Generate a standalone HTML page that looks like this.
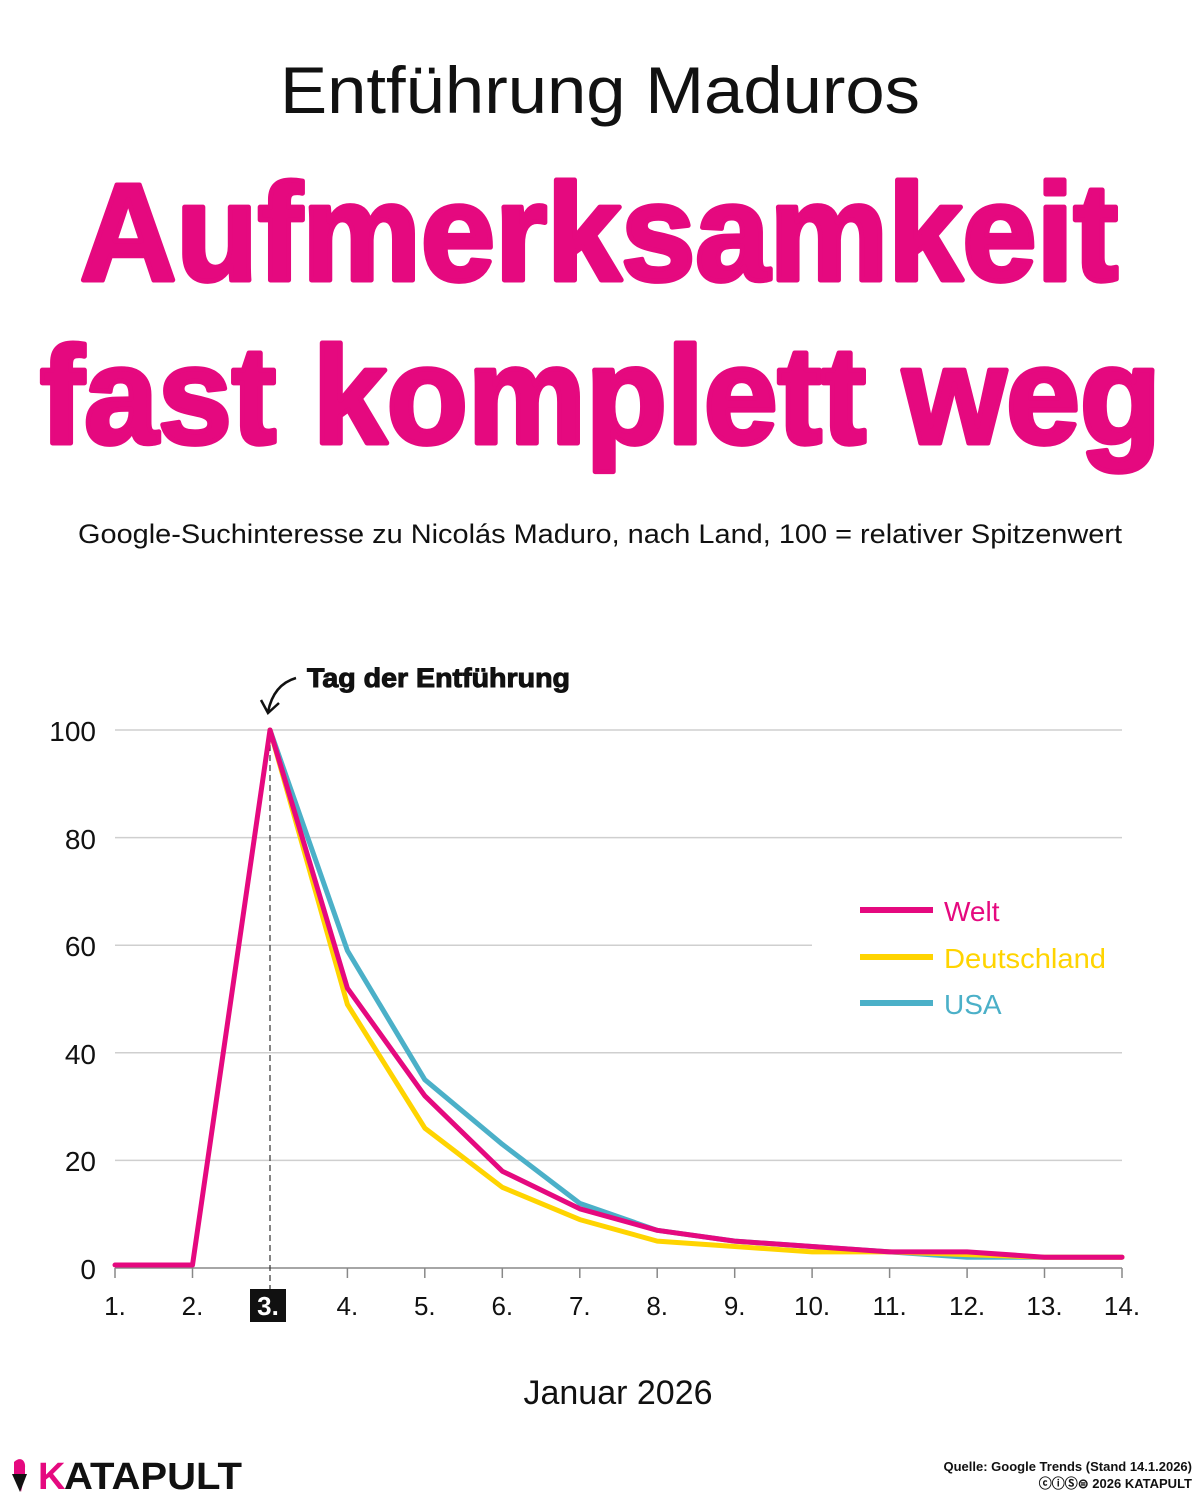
<!DOCTYPE html>
<html><head><meta charset="utf-8"><style>html,body{margin:0;padding:0;background:#fff}svg{display:block}</style></head>
<body>
<svg width="1200" height="1500" viewBox="0 0 1200 1500" xmlns="http://www.w3.org/2000/svg" font-family="Liberation Sans, sans-serif">
<rect width="1200" height="1500" fill="#fff"/>
<text x="600" y="113" text-anchor="middle" font-size="66" fill="#111" textLength="640" lengthAdjust="spacingAndGlyphs">Entführung Maduros</text>
<text x="80" y="280" font-size="138" font-weight="bold" fill="#e5097f" stroke="#e5097f" stroke-width="5" stroke-linejoin="round" textLength="1038" lengthAdjust="spacingAndGlyphs">Aufmerksamkeit</text>
<text x="40" y="443" font-size="138" font-weight="bold" fill="#e5097f" stroke="#e5097f" stroke-width="5" stroke-linejoin="round" textLength="1121" lengthAdjust="spacingAndGlyphs">fast komplett weg</text>
<text x="78" y="543" font-size="27" fill="#111" textLength="1044" lengthAdjust="spacingAndGlyphs">Google-Suchinteresse zu Nicolás Maduro, nach Land, 100 = relativer Spitzenwert</text>

<g stroke="#cfcfcf" stroke-width="1.5">
<line x1="115" y1="730" x2="1122" y2="730"/>
<line x1="115" y1="837.6" x2="1122" y2="837.6"/>
<line x1="115" y1="945.2" x2="812" y2="945.2"/>
<line x1="115" y1="1052.8" x2="1122" y2="1052.8"/>
<line x1="115" y1="1160.4" x2="1122" y2="1160.4"/>
</g>
<line x1="115" y1="1268" x2="1122" y2="1268" stroke="#888" stroke-width="1.5"/>
<g stroke="#888" stroke-width="1.5">
<line x1="115" y1="1268" x2="115" y2="1278"/><line x1="192.5" y1="1268" x2="192.5" y2="1278"/><line x1="347.4" y1="1268" x2="347.4" y2="1278"/><line x1="424.8" y1="1268" x2="424.8" y2="1278"/><line x1="502.3" y1="1268" x2="502.3" y2="1278"/><line x1="579.8" y1="1268" x2="579.8" y2="1278"/><line x1="657.2" y1="1268" x2="657.2" y2="1278"/><line x1="734.7" y1="1268" x2="734.7" y2="1278"/><line x1="812.1" y1="1268" x2="812.1" y2="1278"/><line x1="889.6" y1="1268" x2="889.6" y2="1278"/><line x1="967.1" y1="1268" x2="967.1" y2="1278"/><line x1="1044.5" y1="1268" x2="1044.5" y2="1278"/><line x1="1122" y1="1268" x2="1122" y2="1278"/>
</g>
<line x1="270" y1="735" x2="270" y2="1290" stroke="#333" stroke-width="1.2" stroke-dasharray="6,4"/>

<g font-size="28" fill="#111" text-anchor="end">
<text x="96" y="741">100</text><text x="96" y="849">80</text><text x="96" y="956">60</text><text x="96" y="1064">40</text><text x="96" y="1171">20</text><text x="96" y="1279">0</text>
</g>
<g font-size="26" fill="#111" text-anchor="middle">
<text x="115" y="1315">1.</text><text x="192.5" y="1315">2.</text>
<text x="347.4" y="1315">4.</text><text x="424.8" y="1315">5.</text><text x="502.3" y="1315">6.</text><text x="579.8" y="1315">7.</text><text x="657.2" y="1315">8.</text><text x="734.7" y="1315">9.</text><text x="812.1" y="1315">10.</text><text x="889.6" y="1315">11.</text><text x="967.1" y="1315">12.</text><text x="1044.5" y="1315">13.</text><text x="1122" y="1315">14.</text>
</g>
<rect x="250" y="1289" width="36" height="33" fill="#111"/>
<text x="268" y="1315" font-size="26" font-weight="bold" fill="#fff" text-anchor="middle">3.</text>

<g fill="none" stroke-width="5" stroke-linejoin="round" stroke-linecap="round">
<polyline stroke="#4bb0c8" points="270,730 347.4,950.6 424.8,1079.7 502.3,1144.3 579.8,1203.4 657.2,1230.3 734.7,1241.1 812.1,1246.5 889.6,1251.9 967.1,1257.2 1044.5,1257.2 1122,1257.2"/>
<polyline stroke="#ffd400" points="270,730 347.4,1004.4 424.8,1128.1 502.3,1187.3 579.8,1219.6 657.2,1241.1 734.7,1246.5 812.1,1251.9 889.6,1251.9 967.1,1254.6 1044.5,1257.2 1122,1257.2"/>
<polyline stroke="#e5097f" points="115,1265 192.5,1265 270,730 347.4,988.2 424.8,1095.8 502.3,1171.2 579.8,1208.8 657.2,1230.3 734.7,1241.1 812.1,1246.5 889.6,1251.9 967.1,1251.9 1044.5,1257.2 1122,1257.2"/>
</g>

<path d="M296,678 C282,682 272,692 268,712" fill="none" stroke="#111" stroke-width="2.5"/>
<path d="M261,700 L268,713 L279,703" fill="none" stroke="#111" stroke-width="2.5"/>
<text x="307" y="687" font-size="27" font-weight="bold" fill="#111" stroke="#111" stroke-width="1" textLength="263" lengthAdjust="spacingAndGlyphs">Tag der Entführung</text>

<g stroke-width="6">
<line x1="860" y1="910" x2="933" y2="910" stroke="#e5097f"/>
<line x1="860" y1="957" x2="933" y2="957" stroke="#ffd400"/>
<line x1="860" y1="1003" x2="933" y2="1003" stroke="#4bb0c8"/>
</g>
<g font-size="28">
<text x="944" y="921" fill="#e5097f">Welt</text>
<text x="944" y="968" fill="#ffd400" textLength="162" lengthAdjust="spacingAndGlyphs">Deutschland</text>
<text x="944" y="1014" fill="#4bb0c8">USA</text>
</g>

<text x="618" y="1404" font-size="34" fill="#111" text-anchor="middle">Januar 2026</text>

<path d="M14,1462 C20,1456 26,1460 25,1468 L25,1474 L21,1492 L17,1474 L14,1474 Z" fill="#e5097f"/>
<path d="M12,1474 L27,1474 L20,1492 Z" fill="#111"/>
<text x="38" y="1489" font-size="38" font-weight="bold" fill="#e5097f">K</text>
<text x="64" y="1489" font-size="38" font-weight="bold" fill="#111" textLength="178" lengthAdjust="spacingAndGlyphs">ATAPULT</text>
<text x="1192" y="1471" font-size="13" font-weight="bold" fill="#111" text-anchor="end">Quelle: Google Trends (Stand 14.1.2026)</text>
<text x="1192" y="1488" font-size="13" font-weight="bold" fill="#111" text-anchor="end">ⓒⓘⓈ⊜ 2026 KATAPULT</text>
</svg>
</body></html>
